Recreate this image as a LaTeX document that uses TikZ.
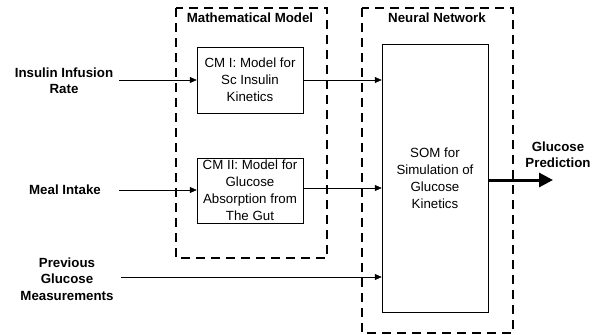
\documentclass[tikz,border=0pt]{standalone}
\usepackage{fontspec}
\setmainfont{Liberation Sans}
\usetikzlibrary{arrows.meta}
\begin{document}
\begin{tikzpicture}[x=1pt,y=-1pt,
  dashbox/.style={draw, line width=1.4pt, dash pattern=on 9pt off 6pt},
  blk/.style={draw, line width=0.5pt, inner sep=0pt},
  lbl/.style={font=\fontsize{13.3}{16.3}\selectfont\bfseries, align=center, inner sep=0pt},
  txt/.style={font=\fontsize{13.3}{17}\selectfont, align=center, inner sep=0pt},
  arr/.style={-{Triangle[length=7pt,width=6pt]}, line width=0.5pt}]
\useasboundingbox (0,0) rectangle (603,335);
% dashed containers
\draw[dashbox] (176,8) rectangle (327,258);
\draw[dashbox] (362,8) rectangle (513,333);
\node[lbl] (mmt) at (250,18) {Mathematical Model};
\node[lbl] (nnt) at (437,18) {Neural Network};
% blocks
\node[blk, minimum width=106pt, minimum height=66pt] (cm1) at (250,80) {};
\node[txt] at (cm1) {CM I: Model for\\Sc Insulin\\Kinetics};
\node[blk, minimum width=106pt, minimum height=65pt] (cm2) at (250,190.5) {};
\node[txt] at (cm2) {CM II: Model for\\Glucose\\Absorption from\\The Gut};
\node[blk, minimum width=106pt, minimum height=268pt] (som) at (435,178) {};
\node[txt] at (som) {SOM for\\Simulation of\\Glucose\\Kinetics};
% inputs
\node[lbl] (ins) at (64,81) {Insulin Infusion\\Rate};
\node[lbl] (meal) at (65,190) {Meal Intake};
\node[lbl] (prev) at (67,279) {Previous\\Glucose\\Measurements};
\node[lbl] (out) at (558,155) {Glucose\\Prediction};
\coordinate (insE) at (119,80);
\coordinate (mealE) at (119,190);
\coordinate (prevE) at (121,277);
\coordinate (outE) at (553,180);
\draw[arr] (insE) -- (cm1.west);
\draw[arr] (mealE) -- (cm2.west |- mealE);
\draw[arr] (cm1.east) -- (som.west |- cm1.east);
\draw[arr] (cm2.east |- 0,188) -- (som.west |- 0,188);
\draw[arr] (prevE) -- (som.west |- prevE);
\draw[-{Triangle[length=14pt,width=14pt]}, line width=3pt] (som.east |- outE) -- (outE);
\end{tikzpicture}
\end{document}
